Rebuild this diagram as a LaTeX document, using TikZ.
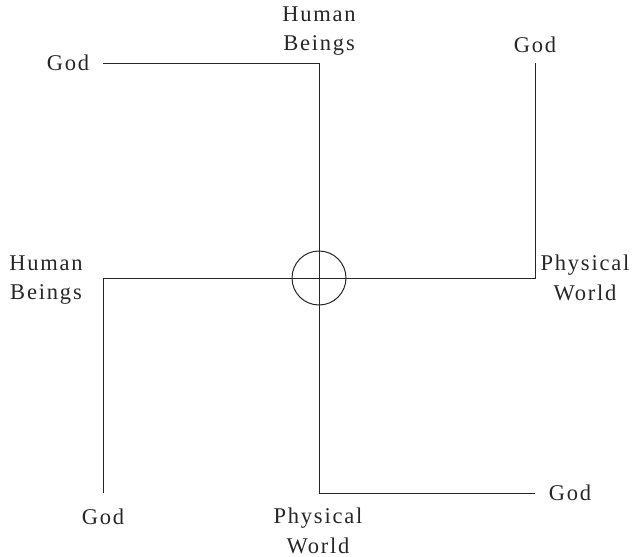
\documentclass[tikz,border=0pt]{standalone}
\usepackage{fontspec}
\setmainfont{Liberation Serif}[LetterSpace=8]
\begin{document}
\begin{tikzpicture}[x=1pt,y=-1pt,
  lbl/.style={inner sep=0pt,align=center,font=\fontsize{22.5}{29.5}\selectfont,text=black!85},
  ln/.style={line width=1pt,draw=black!85}]
\useasboundingbox (0,0) rectangle (635,557);
% corners
\coordinate (a1) at (103,63);
\coordinate (a2) at (319,63);
\coordinate (a3) at (319,493);
\coordinate (a4) at (535,493);
\coordinate (b1) at (535,63);
\coordinate (b2) at (535,278);
\coordinate (b3) at (103,278);
\coordinate (b4) at (103,493);
\node[ln,draw,circle,minimum size=54pt,inner sep=0pt] (ctr) at (319,278) {};
% labels
\node[lbl] (godTL) at (68,63) {God};
\node[lbl] (humTop) at (319,31) {Human\\Beings};
\node[lbl] (godTR) at (535,45) {God};
\node[lbl] (humLeft) at (46,280) {Human\\Beings};
\node[lbl] (physRight) at (585,278) {Physical\\World};
\node[lbl] (godBR) at (570,493) {God};
\node[lbl] (godBL) at (103,517) {God};
\node[lbl] (physBot) at (318,531) {Physical\\World};
% connectors
\draw[ln] (a1) -- (a2) -- (a3) -- (a4);
\draw[ln] (b1) -- (b2) -- (b3) -- (b4);
\end{tikzpicture}
\end{document}
